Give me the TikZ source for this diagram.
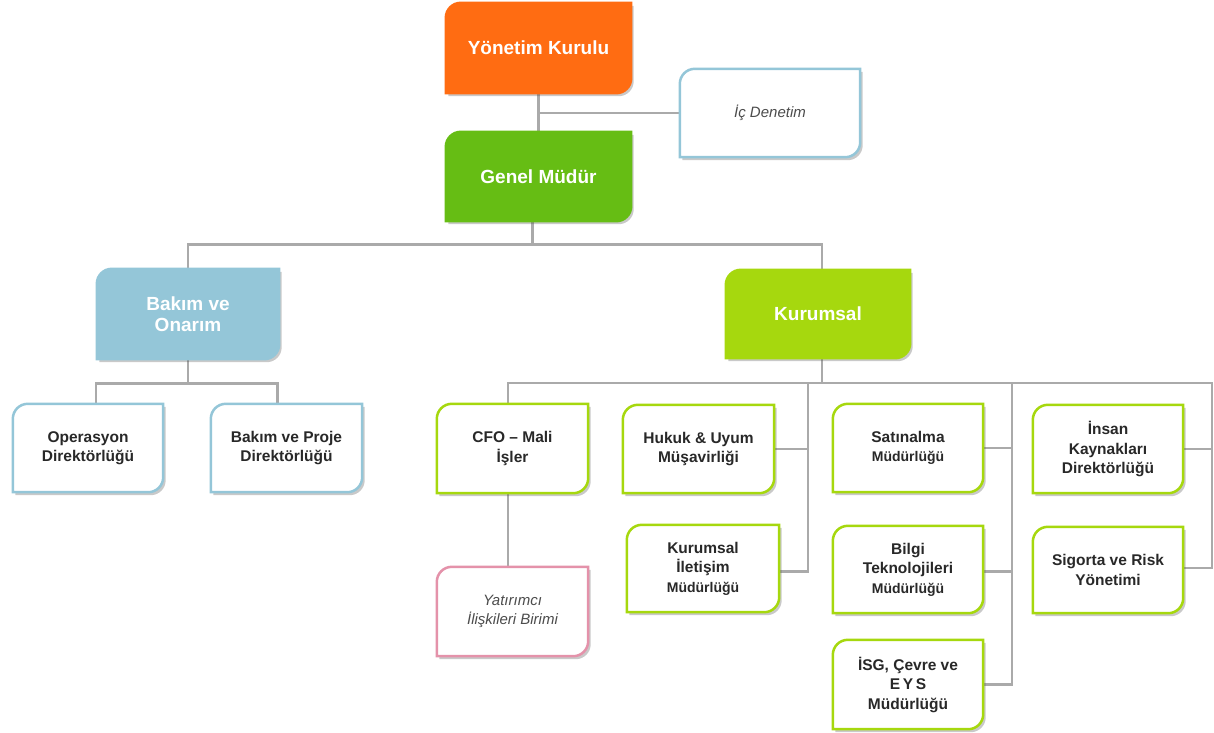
\documentclass[tikz,border=0pt]{standalone}
\usepackage{fontspec}
\setmainfont{Liberation Sans}
\usetikzlibrary{backgrounds,shadows}
\definecolor{orgOrange}{RGB}{255,108,18}
\definecolor{orgGreen}{RGB}{102,189,20}
\definecolor{orgBlue}{RGB}{148,198,216}
\definecolor{orgLime}{RGB}{166,216,14}
\definecolor{orgPink}{RGB}{228,146,170}
\definecolor{orgLine}{RGB}{170,170,170}
\definecolor{orgText}{RGB}{40,40,40}
\tikzset{
  big/.style={font=\fontsize{19}{22}\selectfont\bfseries, text=white, align=center, inner sep=0pt},
  sm/.style={font=\fontsize{15.5}{19.5}\selectfont\bfseries, text=orgText, align=center, inner sep=0pt},
  itl/.style={font=\fontsize{15}{19.5}\selectfont\itshape, text=black!70, align=center, inner sep=0pt},
  sz/.style 2 args={minimum width=#1, minimum height=#2},
  conn/.style={draw=orgLine, line width=2.8pt},
}
\newcommand\orgbox[3]{%
  \path[fill=#2, draw=#3, line width=2.5pt,
        drop shadow={shadow xshift=2.5pt, shadow yshift=-3pt, opacity=.3, fill=black!70}]
   (#1.north east) -- ([yshift=15pt]#1.south east)
   arc[start angle=0, end angle=-90, radius=15pt] -- (#1.south west)
   -- ([yshift=-15pt]#1.north west)
   arc[start angle=180, end angle=90, radius=15pt] -- cycle;}
\newcommand\mdr{{\fontsize{14}{19.5}\selectfont Müdürlüğü}}
\begin{document}
\begin{tikzpicture}[x=1pt,y=-1pt]
\useasboundingbox (0,0) rectangle (1214,732);
% nodes
\node[big, sz={185}{90}] (yk) at (538.5,48) {Yönetim Kurulu};
\node[itl, sz={180}{88}] (ic) at (770,113) {İç Denetim};
\node[big, sz={185}{89}] (gm) at (538.5,176.5) {Genel Müdür};
\node[big, sz={182}{90}, font=\fontsize{19}{21}\selectfont\bfseries] (bo) at (188,314) {Bakım ve\\Onarım};
\node[big, sz={184}{88}] (ku) at (818,314) {Kurumsal};
\node[sm, sz={150}{88}] (op) at (88,448) {Operasyon\\Direktörlüğü};
\node[sm, sz={151}{88}] (bp) at (286.5,448) {Bakım ve Proje\\Direktörlüğü};
\node[sm, sz={151}{89}] (cfo) at (512.5,448.5) {CFO – Mali\\İşler};
\node[itl, sz={151}{89}] (yat) at (512.5,611.5) {Yatırımcı\\İlişkileri Birimi};
\node[sm, sz={151}{88}] (hu) at (698.5,449) {Hukuk \& Uyum\\Müşavirliği};
\node[sm, sz={152}{87}] (ki) at (703,568.5) {Kurumsal\\İletişim\\\mdr};
\node[sm, sz={150}{88}] (sa) at (908,448) {Satınalma\\\mdr};
\node[sm, sz={150}{87}] (bt) at (908,569.5) {Bilgi\\Teknolojileri\\\mdr};
\node[sm, sz={150}{89}] (isg) at (908,684.5) {İSG, Çevre ve\\E\,Y\,S\\Müdürlüğü};
\node[sm, sz={150}{88}] (ik) at (1108,449) {İnsan\\Kaynakları\\Direktörlüğü};
\node[sm, sz={150}{86}] (si) at (1108,570) {Sigorta ve Risk\\Yönetimi};
% bus coordinates
\coordinate (bbus) at ([yshift=-24pt]bo.south);
\coordinate (kbus) at ([xshift=4pt,yshift=-25pt]ku.south);
\coordinate (k1) at (808,383);
\coordinate (k2) at (1012,383);
\coordinate (k3) at (1212,383);
\begin{scope}[on background layer]
  % connectors
  \draw[conn] (yk.south) -- (gm.north);
  \draw[conn] (yk.south |- ic.west) -- (ic.west);
  \draw[conn] (bo.north) |- ([xshift=-6pt,yshift=-23pt]gm.south) -| ([xshift=4pt]ku.north);
  \draw[conn] ([xshift=-6pt]gm.south) -- ++(0,23);
  \draw[conn] (bo.south) -- (bbus);
  \draw[conn] ([xshift=8pt]op.north) |- ([xshift=-9pt]bp.north |- bbus) -- ([xshift=-9pt]bp.north);
  \draw[conn] ([xshift=4pt]ku.south) -- (kbus);
  \draw[conn] ([xshift=-4.5pt]cfo.north) |- (k3) -- ([yshift=2pt]si.east -| k3) -- ([yshift=2pt]si.east);
  \draw[conn] ([xshift=-4.5pt]cfo.south) -- ([xshift=-4.5pt]yat.north);
  \draw[conn] (hu.east) -- (hu.east -| k1);
  \draw[conn] ([yshift=-3pt]ki.east) -| (k1);
  \draw[conn] (sa.east) -- (sa.east -| k2);
  \draw[conn] ([yshift=-2pt]bt.east) -- ([yshift=-2pt]bt.east -| k2);
  \draw[conn] (isg.east) -| (k2);
  \draw[conn] (ik.east) -- (ik.east -| k3);
  % boxes
  \orgbox{yk}{orgOrange}{orgOrange}
  \orgbox{ic}{white}{orgBlue}
  \orgbox{gm}{orgGreen}{orgGreen}
  \orgbox{bo}{orgBlue}{orgBlue}
  \orgbox{ku}{orgLime}{orgLime}
  \orgbox{op}{white}{orgBlue}
  \orgbox{bp}{white}{orgBlue}
  \orgbox{cfo}{white}{orgLime}
  \orgbox{yat}{white}{orgPink}
  \orgbox{hu}{white}{orgLime}
  \orgbox{ki}{white}{orgLime}
  \orgbox{sa}{white}{orgLime}
  \orgbox{bt}{white}{orgLime}
  \orgbox{isg}{white}{orgLime}
  \orgbox{ik}{white}{orgLime}
  \orgbox{si}{white}{orgLime}
\end{scope}
\end{tikzpicture}
\end{document}
